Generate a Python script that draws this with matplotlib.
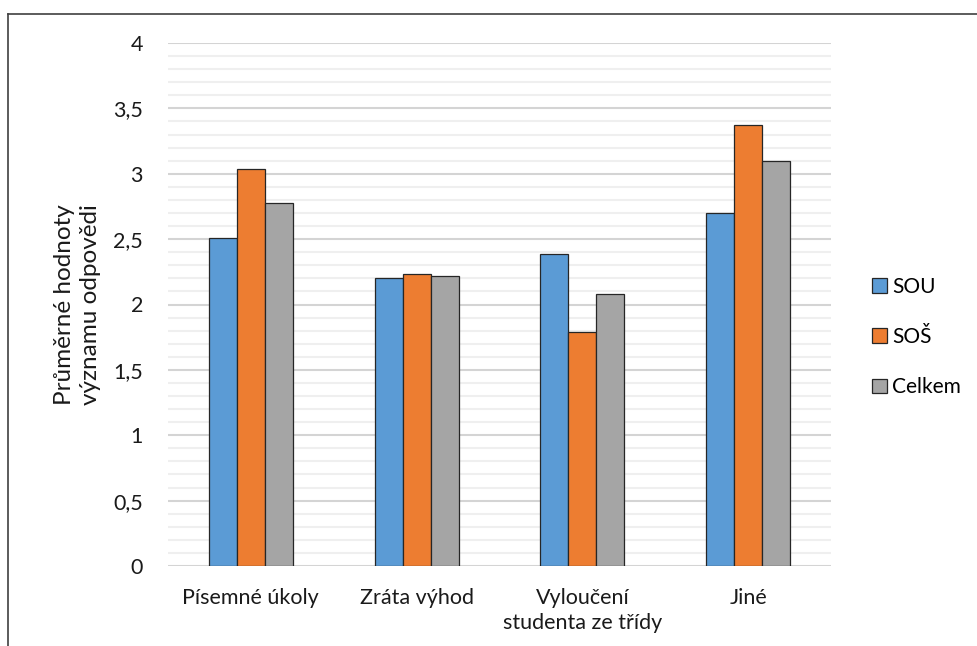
import numpy as np
import matplotlib.pyplot as plt
from matplotlib.lines import Line2D
from matplotlib.ticker import MultipleLocator, FuncFormatter

plt.rcParams['font.family'] = ['Lato', 'DejaVu Sans']

categories = ['Písemné úkoly', 'Zráta výhod', 'Vyloučení\nstudenta ze třídy', 'Jiné']
sou = [2.51, 2.20, 2.39, 2.70]
sos = [3.04, 2.23, 1.79, 3.37]
celkem = [2.78, 2.22, 2.08, 3.10]
series = [('SOU', sou, '#5b9bd5'), ('SOŠ', sos, '#ed7d31'), ('Celkem', celkem, '#a5a5a5')]

fig = plt.figure(figsize=(9.78, 6.46), dpi=100)
ax = fig.add_axes([168 / 978, 1 - 566 / 646, 663 / 978, 523 / 646])

x = np.arange(len(categories))
w = 0.169
for i, (name, vals, col) in enumerate(series):
    ax.bar(x + (i - 1) * w, vals, w, color=col, edgecolor='#262626',
           linewidth=0.9, label=name, zorder=3)

ax.set_xlim(-0.5, len(categories) - 0.5)
ax.set_ylim(0, 4)
ax.yaxis.set_major_locator(MultipleLocator(0.5))
ax.yaxis.set_minor_locator(MultipleLocator(0.1))
ax.yaxis.set_major_formatter(FuncFormatter(lambda v, p: f'{v:g}'.replace('.', ',')))
ax.grid(axis='y', which='major', color='#d4d4d4', linewidth=1.5, zorder=0)
ax.grid(axis='y', which='minor', color='#efefef', linewidth=1.5, zorder=0)
ax.set_xticks(x)
ax.set_xticklabels(categories, fontsize=15.5, color='#1a1a1a', linespacing=1.3)
ax.tick_params(axis='y', which='both', length=0, labelsize=15.5, pad=18, labelcolor='#1a1a1a')
ax.tick_params(axis='x', length=0, pad=16)
for s in ax.spines.values():
    s.set_visible(False)

# y axis title, right edge placed just left of the tick labels
fig.text(101 / 978, 1 - 305 / 646, 'Průměrné hodnoty\nvýznamu odpovědi', fontsize=17.5,
         color='#1a1a1a', rotation=90, ha='right', va='center',
         multialignment='center', linespacing=1.3)

ax.legend(loc='center left', bbox_to_anchor=(872 / 978, 1 - 337 / 646),
          bbox_transform=fig.transFigure, frameon=False, fontsize=15,
          borderpad=0, borderaxespad=0,
          handlelength=0.7, handleheight=0.7, handletextpad=0.25, labelspacing=1.45)

# outer frame of the chart area
fig.add_artist(Line2D([8 / 978, 1], [1 - 14 / 646, 1 - 14 / 646], color='#404040', lw=1.2))
fig.add_artist(Line2D([8 / 978, 8 / 978], [0, 1 - 14 / 646], color='#404040', lw=1.2))

fig.savefig('out.png', dpi=100)
